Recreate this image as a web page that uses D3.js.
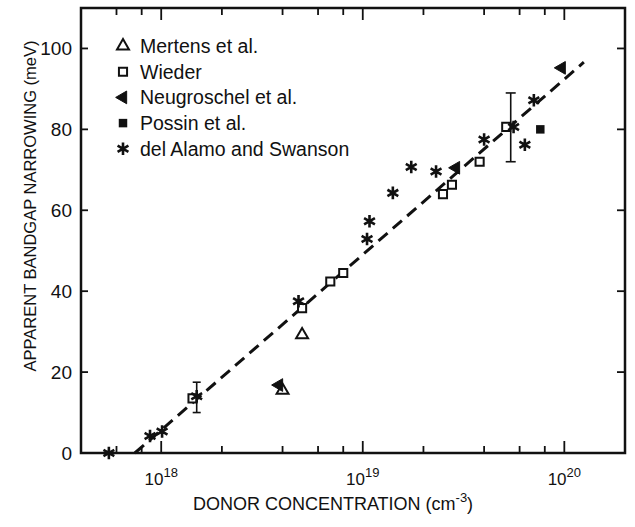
<!DOCTYPE html>
<html>
<head>
<meta charset="utf-8">
<script src="https://cdn.jsdelivr.net/npm/d3@7"></script>
<style>
  html, body { margin: 0; padding: 0; background: #fff; }
  svg { display: block; }
  text { font-family: "Liberation Sans", Arial, sans-serif; fill: #111; }
</style>
</head>
<body>
<svg id="chart" width="635" height="527"></svg>
<script>
// Apparent bandgap narrowing vs. donor concentration (n-type Si)
const mertensN = [4.0e18, 5.0e18];
const mertensE = [15.5, 29.2];

const wiederN = [1.43e18, 5.0e18, 6.9e18, 8.0e18, 2.5e19, 2.77e19, 3.8e19, 5.15e19];
const wiederE = [13.5, 35.8, 42.4, 44.5, 64.0, 66.3, 72.0, 80.6];

const neugroschelN = [3.84e18, 2.9e19, 9.7e19];
const neugroschelE = [16.8, 70.5, 95.2];

const possinN = [7.6e19];
const possinE = [80.0];

const delAlamoN = [5.5e17, 8.8e17, 1.01e18, 1.5e18, 4.8e18, 1.05e19, 1.08e19, 1.41e19,
                   1.74e19, 2.31e19, 4.0e19, 5.6e19, 6.37e19, 7.06e19];
const delAlamoE = [0.0, 4.2, 5.3, 14.0, 37.5, 52.9, 57.3, 64.3,
                   70.7, 69.6, 77.5, 80.6, 76.2, 87.2];

// error bars: position, lower and upper bound
const errN  = [1.5e18, 5.42e19];
const errLo = [10.0, 72.0];
const errHi = [17.5, 89.0];

// fitted trend (dashed line)
const fitN = [7.4e17, 1.25e20];
const fitE = [0, 96.6];

const yTicks = [0, 20, 40, 60, 80, 100];
const xMajor = [1e18, 1e19, 1e20];
const xMajorLabels = ["18", "19", "20"];
const xMinor = [6e17, 8e17, 2e18, 4e18, 6e18, 8e18, 2e19, 4e19, 6e19, 8e19];

const legendNames = ["Mertens et al.", "Wieder", "Neugroschel et al.", "Possin et al.", "del Alamo and Swanson"];
const legendKinds = ["triOpen", "sqOpen", "triLeft", "sqFilled", "star"];

const svg = d3.select("#chart");
const L = 81, R = 625, T = 8, B = 453;

const x = d3.scaleLog().domain([4e17, 2e20]).range([L, R]);
const y = d3.scaleLinear().domain([0, 110]).range([B, T]);

// frame
svg.append("rect")
  .attr("x", L).attr("y", T).attr("width", R - L).attr("height", B - T)
  .attr("fill", "none").attr("stroke", "#111").attr("stroke-width", 2.5);

// inward ticks on all four sides
const tickG = svg.append("g").attr("stroke", "#111").attr("stroke-width", 1.8);
function xTick(v, len) {
  tickG.append("line").attr("x1", x(v)).attr("x2", x(v)).attr("y1", B).attr("y2", B - len);
  tickG.append("line").attr("x1", x(v)).attr("x2", x(v)).attr("y1", T).attr("y2", T + len);
}
xMajor.forEach(v => xTick(v, 12));
xMinor.forEach(v => xTick(v, 7));
yTicks.forEach(v => {
  tickG.append("line").attr("x1", L).attr("x2", L + 7).attr("y1", y(v)).attr("y2", y(v));
  tickG.append("line").attr("x1", R).attr("x2", R - 8).attr("y1", y(v)).attr("y2", y(v));
});

// y tick labels
svg.append("g").selectAll("text").data(yTicks).join("text")
  .attr("x", L - 9).attr("y", d => y(d) + 7)
  .attr("text-anchor", "end").attr("font-size", 19)
  .text(d => d);

// x tick labels (powers of ten)
xMajor.forEach((v, i) => {
  const t = svg.append("text").attr("x", x(v)).attr("y", 485)
    .attr("text-anchor", "middle").attr("font-size", 17);
  t.append("tspan").text("10");
  t.append("tspan").attr("dy", -8).attr("font-size", 13).text(xMajorLabels[i]);
});

// axis titles
const xt = svg.append("text").attr("x", 333).attr("y", 510)
  .attr("text-anchor", "middle").attr("font-size", 18);
xt.append("tspan").text("DONOR CONCENTRATION (cm");
xt.append("tspan").attr("dy", -8).attr("font-size", 13).text("-3");
xt.append("tspan").attr("dy", 8).text(")");

svg.append("text")
  .attr("transform", "translate(36,206) rotate(-90)")
  .attr("text-anchor", "middle").attr("font-size", 16.5)
  .text("APPARENT BANDGAP NARROWING (meV)");

// dashed fit line
svg.append("path")
  .attr("d", d3.line().x(d => x(d[0])).y(d => y(d[1]))(d3.zip(fitN, fitE)))
  .attr("fill", "none").attr("stroke", "#111").attr("stroke-width", 3)
  .attr("stroke-dasharray", "12,7");

// error bars
const eb = svg.append("g").attr("stroke", "#111").attr("stroke-width", 1.6);
errN.forEach((n, i) => {
  const cx = x(n), cap = i === 0 ? 4 : 5;
  eb.append("line").attr("x1", cx).attr("x2", cx).attr("y1", y(errLo[i])).attr("y2", y(errHi[i]));
  [errLo[i], errHi[i]].forEach(v =>
    eb.append("line").attr("x1", cx - cap).attr("x2", cx + cap).attr("y1", y(v)).attr("y2", y(v)));
});

// marker drawing
const symPath = {
  triOpen: d3.symbol(d3.symbolTriangle, 62)(),
  sqOpen: d3.symbol(d3.symbolSquare, 66)(),
  triLeft: d3.symbol(d3.symbolTriangle, 70)(),
  sqFilled: d3.symbol(d3.symbolSquare, 72)(),
  star: d3.symbol(d3.symbolAsterisk, 110)()
};
function marker(g, kind, cx, cy) {
  const p = g.append("path").attr("d", symPath[kind]);
  if (kind === "triLeft") {
    p.attr("transform", `translate(${cx},${cy}) rotate(-90)`).attr("fill", "#111").attr("stroke", "#111").attr("stroke-width", 1);
  } else {
    p.attr("transform", `translate(${cx},${cy})`);
    if (kind === "triOpen" || kind === "sqOpen") p.attr("fill", "#fff").attr("stroke", "#111").attr("stroke-width", 2);
    else if (kind === "sqFilled") p.attr("fill", "#111");
    else p.attr("fill", "none").attr("stroke", "#111").attr("stroke-width", 2.6);
  }
}

const pts = svg.append("g");
const series = [
  ["triOpen", mertensN, mertensE],
  ["sqOpen", wiederN, wiederE],
  ["triLeft", neugroschelN, neugroschelE],
  ["sqFilled", possinN, possinE],
  ["star", delAlamoN, delAlamoE]
];
series.forEach(([kind, ns, es]) => ns.forEach((n, i) => marker(pts, kind, x(n), y(es[i]))));

// legend
const lg = svg.append("g");
legendNames.forEach((name, i) => {
  const cy = 46 + i * 25.7;
  marker(lg, legendKinds[i], 123, cy);
  lg.append("text").attr("x", 140).attr("y", cy + 7).attr("font-size", 19.5).text(name);
});
</script>
</body>
</html>
